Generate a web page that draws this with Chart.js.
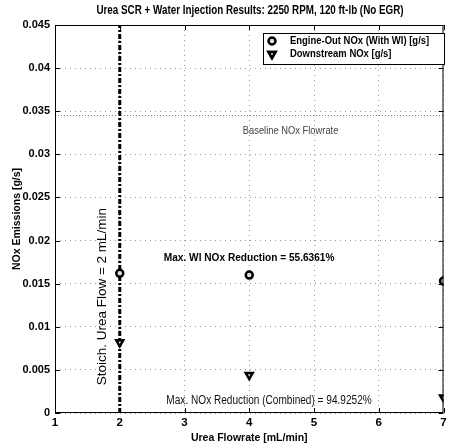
<!DOCTYPE html>
<html>
<head>
<meta charset="utf-8">
<script src="https://cdn.jsdelivr.net/npm/chart.js@4"></script>
<style>
  html, body { margin: 0; padding: 0; background: #fff; }
  #wrap { width: 450px; height: 445px; }
</style>
</head>
<body>
<div id="wrap"><canvas id="c" width="450" height="445"></canvas></div>
<script>
// donnees
const ureaFlow = [2, 4, 7];
const engineOutNox = [0.0162, 0.0160, 0.0153];
const downstreamNox = [0.0082, 0.0044, 0.0018];
const baselineNox = 0.0345;
const stoichFlow = 2;
const xTicks = [1, 2, 3, 4, 5, 6, 7];
const yTicks = [0, 0.005, 0.01, 0.015, 0.02, 0.025, 0.03, 0.035, 0.04, 0.045];

const titleText = 'Urea SCR + Water Injection Results: 2250 RPM, 120 ft-lb (No EGR)';
const SANS = '"Liberation Sans", Arial, sans-serif';

// textes poses en coordonnees de donnees (sx = compression horizontale, police un peu etroite sur l'original)
const notes = [
  { text: 'Baseline NOx Flowrate', x: 3.9, y: 0.0327, font: '11px ' + SANS, sx: 0.85, color: '#444', rot: 0 },
  { text: 'Max. WI NOx Reduction = 55.6361%', x: 2.68, y: 0.0180, font: 'bold 11.5px ' + SANS, sx: 0.88, color: '#000', rot: 0 },
  { text: 'Max. NOx Reduction (Combined) = 94.9252%', x: 2.72, y: 0.0014, font: '12px ' + SANS, sx: 0.84, color: '#111', rot: 0 },
  { text: 'Stoich. Urea Flow = ' + stoichFlow + ' mL/min', x: 1.73, y: 0.0135, font: '13.5px ' + SANS, sx: 1, color: '#000', rot: -Math.PI / 2, center: true }
];

function drawText(ctx, text, x, y, font, sx, align) {
  ctx.save();
  ctx.translate(x, y);
  ctx.scale(sx, 1);
  ctx.font = font;
  ctx.textAlign = align;
  ctx.textBaseline = 'middle';
  ctx.fillText(text, 0, 0);
  ctx.restore();
}

const framePlugin = {
  id: 'frame',
  afterDraw(chart) {
    const { ctx, chartArea: a, scales } = chart;
    const xs = scales.x, ys = scales.y;
    ctx.save();
    // titre
    ctx.fillStyle = '#000';
    drawText(ctx, titleText, 250, 11, 'bold 12px ' + SANS, 0.82, 'center');

    // cadre + graduations vers l'interieur (style matlab)
    ctx.strokeStyle = '#000';
    ctx.lineWidth = 1;
    ctx.strokeRect(a.left + 0.5, a.top + 0.5, a.right - a.left - 1, a.bottom - a.top - 1);
    ctx.beginPath();
    xTicks.forEach(v => {
      const px = Math.round(xs.getPixelForValue(v)) + 0.5;
      ctx.moveTo(px, a.bottom); ctx.lineTo(px, a.bottom - 5);
      ctx.moveTo(px, a.top); ctx.lineTo(px, a.top + 5);
    });
    yTicks.forEach(v => {
      const py = Math.round(ys.getPixelForValue(v)) + 0.5;
      ctx.moveTo(a.left, py); ctx.lineTo(a.left + 5, py);
      ctx.moveTo(a.right, py); ctx.lineTo(a.right - 5, py);
    });
    ctx.stroke();

    // annotations
    notes.forEach(n => {
      const px = xs.getPixelForValue(n.x), py = ys.getPixelForValue(n.y);
      ctx.save();
      ctx.translate(px, py);
      ctx.rotate(n.rot);
      ctx.fillStyle = n.color;
      drawText(ctx, n.text, 0, 0, n.font, n.sx, n.center ? 'center' : 'left');
      ctx.restore();
    });

    // legende
    const ds = chart.data.datasets;
    const bx = 263, by = 33, bw = 181, bh = 31;
    ctx.fillStyle = '#fff';
    ctx.fillRect(bx, by, bw, bh);
    ctx.strokeStyle = '#000';
    ctx.lineWidth = 1;
    ctx.strokeRect(bx + 0.5, by + 0.5, bw, bh);
    [0, 1].forEach(i => {
      const d = ds[i];
      const ly = by + 8 + i * 13;
      Chart.helpers.drawPoint(ctx, {
        pointStyle: d.pointStyle, rotation: d.rotation || 0, radius: d.pointRadius,
        borderWidth: d.borderWidth
      }, 272, ly);
      ctx.fillStyle = d.pointBackgroundColor;
      ctx.strokeStyle = d.borderColor;
      ctx.lineWidth = d.borderWidth;
      ctx.fill(); ctx.stroke();
      ctx.fillStyle = '#000';
      drawText(ctx, d.label, 290, ly, 'bold 11px ' + SANS, 0.86, 'left');
    });
    ctx.restore();
  }
};

const toPoints = (xs, ys) => xs.map((x, i) => ({ x: x, y: ys[i] }));

new Chart(document.getElementById('c'), {
  type: 'scatter',
  data: {
    datasets: [
      {
        label: 'Engine-Out NOx (With WI) [g/s]',
        data: toPoints(ureaFlow, engineOutNox),
        pointStyle: 'circle', pointRadius: 3.5, borderWidth: 2.5,
        borderColor: '#000', pointBackgroundColor: '#ddd', backgroundColor: '#ddd'
      },
      {
        label: 'Downstream NOx [g/s]',
        data: toPoints(ureaFlow, downstreamNox),
        pointStyle: 'triangle', rotation: 180, pointRadius: 4, borderWidth: 2.5,
        borderColor: '#000', pointBackgroundColor: '#ddd', backgroundColor: '#ddd'
      },
      {
        label: 'Baseline',
        data: [{ x: xTicks[0], y: baselineNox }, { x: xTicks[xTicks.length - 1], y: baselineNox }],
        showLine: true, pointRadius: 0, borderColor: '#777', borderWidth: 1, borderDash: [1, 2]
      },
      {
        label: 'Stoich',
        data: [{ x: stoichFlow, y: yTicks[0] }, { x: stoichFlow, y: yTicks[yTicks.length - 1] }],
        showLine: true, pointRadius: 0, borderColor: '#000', borderWidth: 3, borderDash: [5, 2, 2, 2]
      }
    ]
  },
  options: {
    responsive: false,
    animation: false,
    layout: { padding: { top: 25, right: 2, left: 0, bottom: 0 } },
    plugins: { legend: { display: false }, title: { display: false }, tooltip: { enabled: false } },
    scales: {
      x: {
        type: 'linear', min: 1, max: 7,
        afterFit: s => { s.height = 32; },
        afterBuildTicks: s => { s.ticks = xTicks.map(v => ({ value: v })); },
        grid: { color: 'rgba(0,0,0,0.4)', drawTicks: false },
        border: { display: false, dash: [1, 4] },
        ticks: { color: '#000', padding: 3, font: { family: SANS, size: 11.5, weight: 'bold' } },
        title: { display: true, text: 'Urea Flowrate [mL/min]', color: '#000', padding: { top: 0, bottom: 1 },
                 font: { family: SANS, size: 10.5, weight: 'bold' } }
      },
      y: {
        type: 'linear', min: 0, max: 0.045,
        afterFit: s => { s.width = 55; },
        afterBuildTicks: s => { s.ticks = yTicks.map(v => ({ value: v })); },
        grid: { color: 'rgba(0,0,0,0.4)', drawTicks: false },
        border: { display: false, dash: [1, 4] },
        ticks: { color: '#000', padding: 5, font: { family: SANS, size: 11, weight: 'bold' },
                 callback: v => String(Number(v.toFixed(3))) },
        title: { display: true, text: 'NOx Emissions [g/s]', color: '#000', padding: { top: 11, bottom: 0 },
                 font: { family: SANS, size: 10.5, weight: 'bold' } }
      }
    }
  },
  plugins: [framePlugin]
});
</script>
</body>
</html>
